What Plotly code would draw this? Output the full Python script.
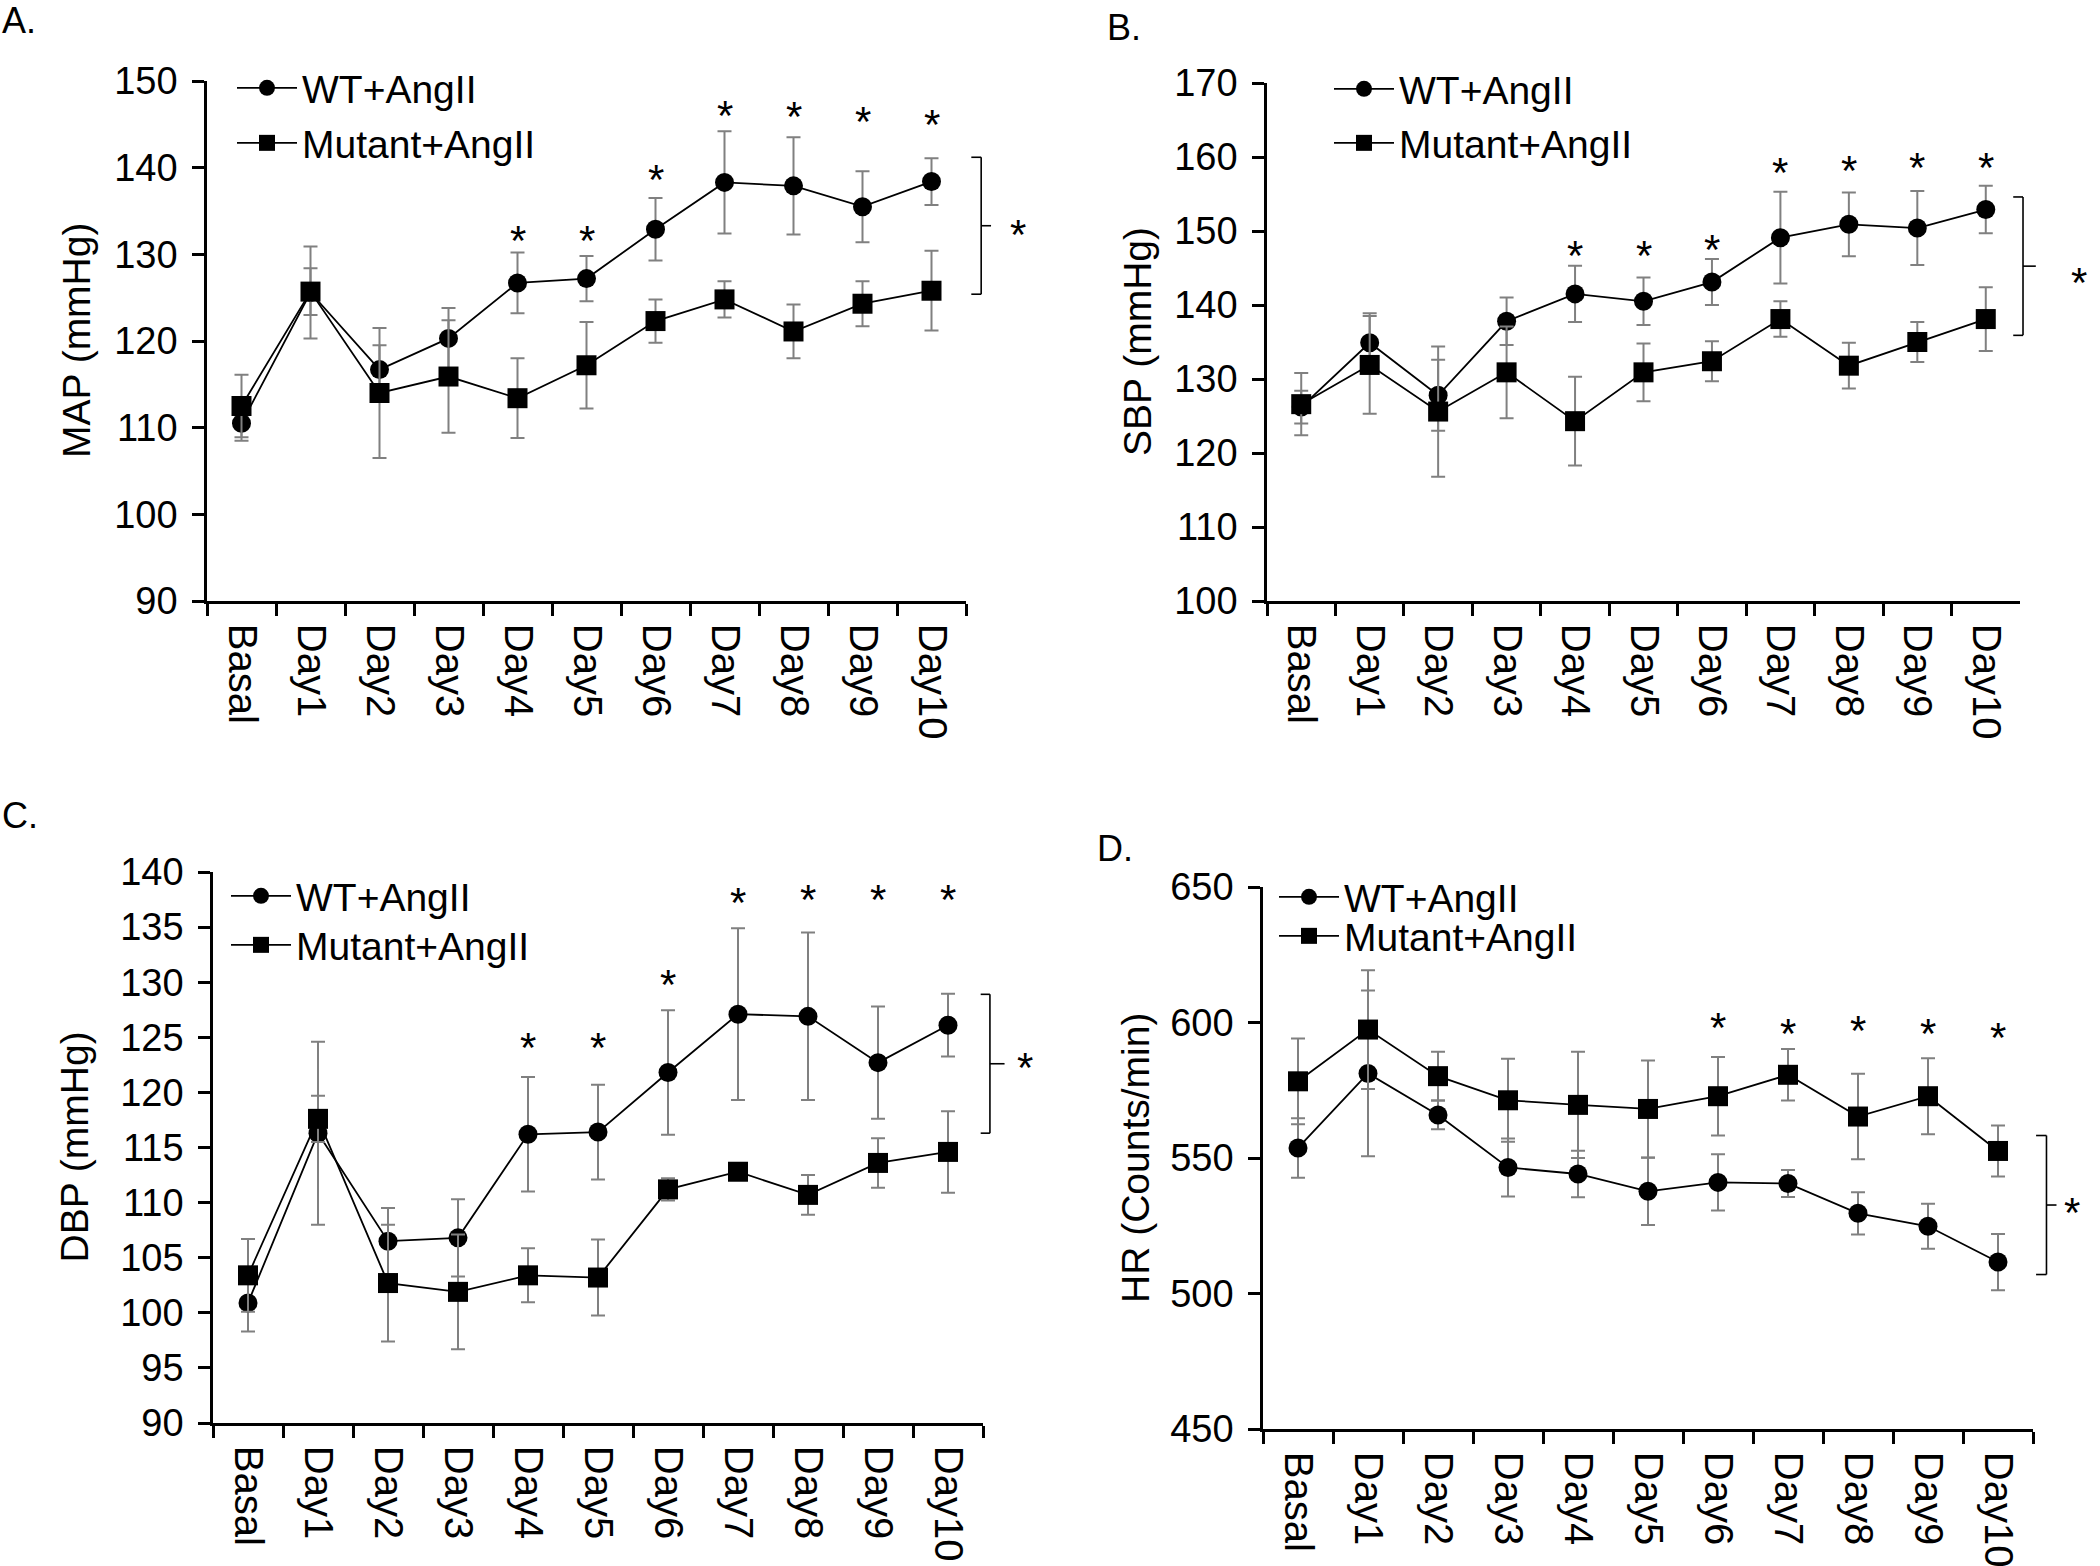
import plotly.graph_objects as go

categories = ["Basal", "Day1", "Day2", "Day3", "Day4", "Day5", "Day6", "Day7", "Day8", "Day9", "Day10"]

map_wt = [110.5, 125.6, 116.7, 120.3, 126.7, 127.2, 132.9, 138.3, 137.9, 135.5, 138.4]
map_wt_err = [2.0, 5.3, 2.8, 3.5, 3.5, 2.6, 3.6, 5.9, 5.6, 4.1, 2.7]
map_mut = [112.5, 125.7, 114.0, 115.9, 113.4, 117.2, 122.3, 124.8, 121.1, 124.3, 125.8]
map_mut_err = [3.6, 2.7, 7.5, 6.5, 4.6, 5.0, 2.5, 2.1, 3.1, 2.6, 4.6]

sbp_wt = [126.2, 134.9, 127.8, 137.8, 141.5, 140.5, 143.1, 149.1, 150.9, 150.4, 152.9]
sbp_wt_err = [2.2, 4.0, 4.8, 3.2, 3.8, 3.2, 3.1, 6.2, 4.3, 5.0, 3.2]
sbp_mut = [126.6, 131.9, 125.6, 130.9, 124.3, 130.9, 132.4, 138.1, 131.8, 135.0, 138.1]
sbp_mut_err = [4.2, 6.6, 8.8, 6.2, 6.0, 3.9, 2.7, 2.4, 3.1, 2.7, 4.3]

dbp_wt = [100.9, 116.3, 106.5, 106.8, 116.2, 116.4, 121.8, 127.1, 126.9, 122.7, 126.1]
dbp_wt_err = [2.6, 8.3, 3.0, 3.5, 5.2, 4.3, 5.65, 7.8, 7.6, 5.1, 2.85]
dbp_mut = [103.4, 117.6, 102.7, 101.9, 103.4, 103.2, 111.2, 112.8, 110.7, 113.6, 114.6]
dbp_mut_err = [3.3, 2.1, 5.3, 5.2, 2.45, 3.45, 1.0, 0.5, 1.8, 2.25, 3.7]

hr_wt = [553.7, 581.2, 565.9, 546.5, 544.1, 537.7, 541.0, 540.6, 529.6, 524.8, 511.6]
hr_wt_err = [11.0, 30.6, 5.3, 10.7, 8.6, 12.4, 10.4, 5.0, 7.8, 8.3, 10.4]
hr_mut = [578.3, 597.4, 580.2, 571.3, 569.6, 568.1, 572.8, 580.7, 565.3, 572.8, 552.6]
hr_mut_err = [15.8, 21.9, 9.0, 15.3, 19.6, 17.9, 14.5, 9.5, 15.8, 14.0, 9.4]

# significance stars (day, height of the star)
map_star_days = ["Day4", "Day5", "Day6", "Day7", "Day8", "Day9", "Day10"]
map_star_y = [132.8, 132.8, 139.8, 147.2, 147.0, 146.5, 146.1]
sbp_star_days = ["Day4", "Day5", "Day6", "Day7", "Day8", "Day9", "Day10"]
sbp_star_y = [148.1, 148.1, 148.9, 159.2, 159.5, 160.0, 160.0]
dbp_star_days = ["Day4", "Day5", "Day6", "Day7", "Day8", "Day9", "Day10"]
dbp_star_y = [125.0, 125.0, 130.7, 138.1, 138.4, 138.4, 138.4]
hr_star_days = ["Day6", "Day7", "Day8", "Day9", "Day10"]
hr_star_y = [601.8, 599.6, 600.9, 599.6, 598.1]

# overall group brackets: (top, bottom, star height)
map_bracket = (141.2, 125.4, 133.4)
sbp_bracket = (154.6, 135.9, 144.4)
dbp_bracket = (128.9, 116.3, 123.2)
hr_bracket = (558.3, 507.0, 533.7)

W, H = 2100, 1566
FONT = "Liberation Sans, Arial, sans-serif"
FS_Y = 38
FS_X = 40
FS_LEG = 39

panels = [
    dict(wt=map_wt, wte=map_wt_err, mu=map_mut, mue=map_mut_err, sd=map_star_days, sy=map_star_y,
         br=map_bracket, title="MAP (mmHg)", label="A.", rng=[90, 150], dt=10,
         px=(207, 966), py=(81, 601), leg=(232, 88, 143), lab=(0, 20), ttl=76,
         bx=(1.020, 1.007, 1.033, 1.082)),
    dict(wt=sbp_wt, wte=sbp_wt_err, mu=sbp_mut, mue=sbp_mut_err, sd=sbp_star_days, sy=sbp_star_y,
         br=sbp_bracket, title="SBP (mmHg)", label="B.", rng=[100, 170], dt=10,
         px=(1267, 2020), py=(83, 601), leg=(1329, 89, 143), lab=(1105, 27), ttl=1137,
         bx=(1.004, 0.991, 1.021, 1.092)),
    dict(wt=dbp_wt, wte=dbp_wt_err, mu=dbp_mut, mue=dbp_mut_err, sd=dbp_star_days, sy=dbp_star_y,
         br=dbp_bracket, title="DBP (mmHg)", label="C.", rng=[90, 140], dt=5,
         px=(213, 983), py=(872, 1423), leg=(226, 896, 945), lab=(0, 815), ttl=74,
         bx=(1.009, 0.997, 1.028, 1.067)),
    dict(wt=hr_wt, wte=hr_wt_err, mu=hr_mut, mue=hr_mut_err, sd=hr_star_days, sy=hr_star_y,
         br=hr_bracket, title="HR (Counts/min)", label="D.", rng=[450, 650], dt=50,
         px=(1263, 2033), py=(887, 1429), leg=(1274, 897, 936), lab=(1095, 848), ttl=1135,
         bx=(1.0175, 1.004, 1.0305, 1.063)),
]

fig = go.Figure()
layout = dict(
    width=W, height=H, margin=dict(l=0, r=0, t=0, b=0, pad=0, autoexpand=False),
    paper_bgcolor="white", plot_bgcolor="white",
    font=dict(family=FONT, size=FS_Y, color="black"),
    showlegend=True,
)
annotations = []
shapes = []

for i, p in enumerate(panels):
    n = i + 1
    sfx = "" if n == 1 else str(n)
    xa, ya = "x" + sfx, "y" + sfx
    lw, lm = "legend" + ("" if n == 1 else str(2 * n - 1)), "legend" + str(2 * n)
    for name, vals, errs, sym, leg in [("WT+AngII", p["wt"], p["wte"], "circle", lw),
                                       ("Mutant+AngII", p["mu"], p["mue"], "square", lm)]:
        fig.add_trace(go.Scatter(
            x=categories, y=vals, name=name, mode="lines+markers",
            xaxis=xa, yaxis=ya, legend=leg,
            line=dict(color="black", width=1.8),
            marker=dict(symbol=sym, size=19 if sym == "circle" else 20, color="black"),
            error_y=dict(type="data", array=errs, visible=True, color="#808080", thickness=2, width=7),
        ))
    dom_x = [p["px"][0] / W, p["px"][1] / W]
    dom_y = [1 - p["py"][1] / H, 1 - p["py"][0] / H]
    layout["xaxis" + sfx] = dict(
        domain=dom_x, anchor=ya, type="category", categoryorder="array", categoryarray=categories,
        range=[-0.5, len(categories) - 0.5], showline=True, linecolor="black", linewidth=2.5,
        ticks="outside", tickson="boundaries", ticklen=12, tickwidth=2.5, tickcolor="black",
        tickangle=90, showgrid=False, zeroline=False, tickfont=dict(size=FS_X),
        ticklabelstandoff=12, automargin=False,
    )
    layout["yaxis" + sfx] = dict(
        domain=dom_y, anchor=xa, range=p["rng"], dtick=p["dt"], tick0=p["rng"][0],
        showline=True, linecolor="black", linewidth=2.5, ticks="outside", ticklen=12,
        tickwidth=2.5, tickcolor="black", showgrid=False, zeroline=False, tickfont=dict(size=FS_Y),
        ticklabelstandoff=7, automargin=False,
    )
    lx, ly1, ly2 = p["leg"]
    for leg, yy in [(lw, ly1), (lm, ly2)]:
        layout[leg] = dict(x=lx / W, y=1 - yy / H, xanchor="left", yanchor="middle",
                           bgcolor="rgba(0,0,0,0)", borderwidth=0, itemwidth=60,
                           font=dict(size=FS_LEG, family=FONT, color="black"),
                           tracegroupgap=0, itemclick=False)
    annotations.append(dict(text=p["title"], textangle=-90, xref="paper", yref="paper",
                            x=p["ttl"] / W, y=(dom_y[0] + dom_y[1]) / 2, showarrow=False,
                            xanchor="center", yanchor="middle", font=dict(size=39)))
    annotations.append(dict(text=p["label"], xref="paper", yref="paper",
                            x=p["lab"][0] / W, y=1 - p["lab"][1] / H, showarrow=False,
                            xanchor="left", yanchor="middle", font=dict(size=36)))
    for d, yy in zip(p["sd"], p["sy"]):
        annotations.append(dict(text="*", x=d, y=yy, xref=xa, yref=ya, showarrow=False,
                                yshift=-10, font=dict(size=42)))
    top, bot, sy = p["br"]
    mid = (top + bot) / 2
    vx, tx, mx, stx = p["bx"]
    xr = xa + " domain"
    lcfg = dict(color="black", width=1.6)
    shapes.append(dict(type="line", xref=xr, yref=ya, x0=vx, x1=vx, y0=bot, y1=top, line=lcfg))
    shapes.append(dict(type="line", xref=xr, yref=ya, x0=tx, x1=vx, y0=top, y1=top, line=lcfg))
    shapes.append(dict(type="line", xref=xr, yref=ya, x0=tx, x1=vx, y0=bot, y1=bot, line=lcfg))
    shapes.append(dict(type="line", xref=xr, yref=ya, x0=vx, x1=mx, y0=mid, y1=mid, line=lcfg))
    annotations.append(dict(text="*", x=stx, y=sy, xref=xr, yref=ya, showarrow=False,
                            yshift=-10, font=dict(size=42)))

layout["annotations"] = annotations
layout["shapes"] = shapes
fig.update_layout(**layout)
fig.write_html("out.html", config={"displayModeBar": False},
               post_script="document.body.style.margin='0';")
